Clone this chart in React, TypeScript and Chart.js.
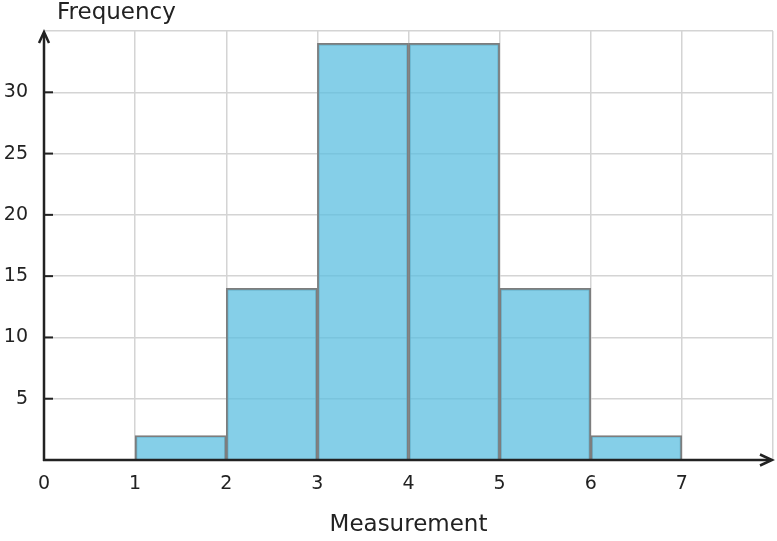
import React, { useEffect, useRef } from "react";
import { Chart, registerables } from "chart.js";

Chart.register(...registerables);

const binStarts = [1, 2, 3, 4, 5, 6];
const binEnds = [2, 3, 4, 5, 6, 7];
const frequencies = [2, 14, 34, 34, 14, 2];
const xAxisMax = 8;
const yAxisMax = 35;
const yTickValues = [5, 10, 15, 20, 25, 30];
const xTitle = "Measurement";
const yTitle = "Frequency";

const FONT = "'DejaVu Sans', sans-serif";
const TEXT = "#222222";
const GRID = "#d4d4d4";
const AXIS = "#222222";

const axesPlugin = {
  id: "axesArrows",
  afterDraw(chart: any) {
    const { ctx, chartArea } = chart;
    const { left, right, top, bottom } = chartArea;
    const yScale = chart.scales.y;
    ctx.save();
    ctx.strokeStyle = AXIS;
    ctx.lineWidth = 2.5;
    ctx.lineCap = "butt";
    // x axis
    ctx.beginPath();
    ctx.moveTo(left - 1, bottom);
    ctx.lineTo(right - 2, bottom);
    ctx.stroke();
    // y axis
    ctx.beginPath();
    ctx.moveTo(left, bottom + 1);
    ctx.lineTo(left, top + 2);
    ctx.stroke();
    // arrowheads
    ctx.lineJoin = "miter";
    ctx.beginPath();
    ctx.moveTo(right - 13, bottom - 5.5);
    ctx.lineTo(right - 1, bottom);
    ctx.lineTo(right - 13, bottom + 5.5);
    ctx.stroke();
    ctx.beginPath();
    ctx.moveTo(left - 5, top + 12);
    ctx.lineTo(left, top + 1);
    ctx.lineTo(left + 5, top + 12);
    ctx.stroke();
    // inward y tick marks
    ctx.lineWidth = 2;
    yTickValues.forEach((v) => {
      const py = yScale.getPixelForValue(v);
      ctx.beginPath();
      ctx.moveTo(left, py);
      ctx.lineTo(left + 9, py);
      ctx.stroke();
    });
    // y title
    ctx.fillStyle = TEXT;
    ctx.font = `23px ${FONT}`;
    ctx.textAlign = "left";
    ctx.textBaseline = "middle";
    ctx.fillText(yTitle, 57, 13);
    ctx.restore();
  },
};

export default function App() {
  const canvasRef = useRef<HTMLCanvasElement | null>(null);

  useEffect(() => {
    document.body.style.margin = "0";
    const canvas = canvasRef.current;
    if (!canvas) return;
    const chart = new Chart(canvas, {
      type: "bar",
      data: {
        datasets: [
          {
            data: binStarts.map((s, i) => ({ x: (s + binEnds[i]) / 2, y: frequencies[i] })),
            backgroundColor: "rgba(92,191,224,0.75)",
            borderColor: "#7d7d7d",
            borderWidth: 1.8,
            barPercentage: 1,
            categoryPercentage: 1,
          } as any,
        ],
      },
      plugins: [axesPlugin],
      options: {
        animation: false,
        responsive: false,
        maintainAspectRatio: false,
        layout: { padding: { top: 31, right: 4, left: 0, bottom: 0 } },
        plugins: {
          legend: { display: false },
          tooltip: { enabled: false },
          title: { display: false },
        },
        scales: {
          x: {
            type: "linear",
            min: 0,
            max: xAxisMax,
            offset: false,
            ticks: {
              stepSize: 1,
              autoSkip: false,
              maxRotation: 0,
              callback: (v: any) => (v === xAxisMax ? "" : String(v)),
              font: { family: FONT, size: 19 },
              color: TEXT,
              padding: 13,
            },
            grid: { color: GRID, lineWidth: 1.5, drawTicks: false, offset: false },
            border: { display: false },
            title: {
              display: true,
              text: xTitle,
              font: { family: FONT, size: 23 },
              color: TEXT,
              padding: { top: 0, bottom: 2 },
            },
            afterFit: (s: any) => {
              s.height = 81;
              s.paddingLeft = 0;
              s.paddingRight = 0;
            },
          },
          y: {
            type: "linear",
            min: 0,
            max: yAxisMax,
            ticks: {
              stepSize: 5,
              autoSkip: false,
              callback: (v: any) => (v === 0 || v === yAxisMax ? "" : String(v)),
              font: { family: FONT, size: 19 },
              color: TEXT,
              padding: 16,
            },
            grid: { color: GRID, lineWidth: 1.5, drawTicks: false },
            border: { display: false },
            afterFit: (s: any) => {
              s.width = 44;
              s.paddingTop = 0;
              s.paddingBottom = 0;
            },
          },
        },
      } as any,
    });
    return () => chart.destroy();
  }, []);

  return (
    <div style={{ width: 777, height: 541, position: "relative", background: "#fff" }}>
      <canvas ref={canvasRef} width={777} height={541} style={{ display: "block" }} />
    </div>
  );
}
